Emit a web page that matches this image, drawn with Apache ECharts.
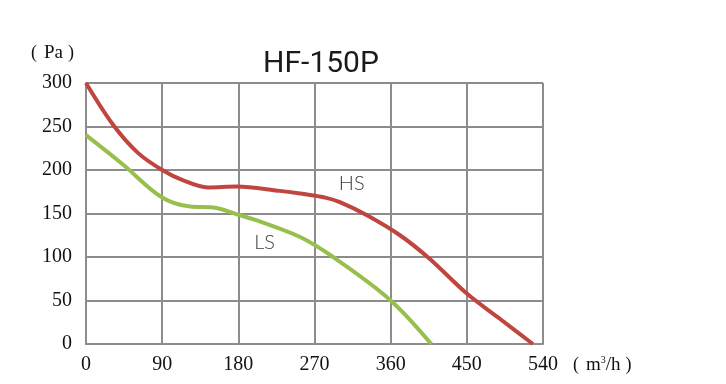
<!DOCTYPE html>
<html><head><meta charset="utf-8">
<script src="https://cdn.jsdelivr.net/npm/echarts@6/dist/echarts.min.js"></script>
<style>html,body{margin:0;padding:0;background:#fff}#c{width:726px;height:384px}</style>
</head><body><div id="c"></div>
<script>
const xTicks = [0, 90, 180, 270, 360, 450, 540];
const yTicks = [0, 50, 100, 150, 200, 250, 300];
const hsData = [[0,300],[32,252],[61,220],[90,200],[115,188],[144,180],[178,181],[229,176],[253,173],[284,168],[300,163],[332,148],[371,125],[406,98],[450,58],[489,29],[528,0]];
const lsData = [[0,240],[44,206],[89,169],[123,158],[150,157],[182,148],[202,142],[253,123],[292,100],[359,51],[408,0]];
const seriesNames = ['HS', 'LS'];
const labelPos = {HS: [314, 185], LS: [211, 117]};

const chart = echarts.init(document.getElementById('c'));
const gridColor = '#8c8c8c';
const serif = '"Liberation Serif","DejaVu Serif",serif';
const unitRich = {
  l: {fontFamily: serif, fontSize: 18, color: '#111', padding: [0, 7, 0, 0]},
  r: {fontFamily: serif, fontSize: 18, color: '#111', padding: [0, 0, 0, 5]},
  t: {fontFamily: serif, fontSize: 19, color: '#111'},
  s: {fontFamily: serif, fontSize: 10, color: '#111', verticalAlign: 'top', padding: [0, 0, 10, 0]}
};
function lineSeries(name, data, color) {
  return {
    name, type: 'line', data, smooth: 0.35, symbol: 'none',
    lineStyle: {color, width: 4}, z: 5,
    markPoint: {
      symbol: 'circle', symbolSize: 0,
      data: [{coord: labelPos[name], value: name}],
      label: {show: true, formatter: name, color: '#3a3a3a', fontSize: 20,
        fontFamily: 'Lato, "Open Sans", sans-serif', fontWeight: 300, position: 'inside'}
    }
  };
}
chart.setOption({
  animation: false,
  title: {text: 'HF-150P', left: 316, top: 44, textAlign: 'center',
    textStyle: {fontFamily: 'Roboto, sans-serif', fontSize: 30, fontWeight: 'normal', color: '#1a1a1a'}},
  grid: {left: 86, right: 183, top: 83, bottom: 40, containLabel: false},
  xAxis: {
    type: 'value', min: 0, max: 540, interval: 90,
    name: '{l|(}{t|m}{s|3}{t|/h}{r|)}', nameLocation: 'end', nameGap: 30,
    nameTextStyle: {align: 'left', verticalAlign: 'top', padding: [11, 0, 0, 0], rich: unitRich},
    axisLine: {show: true, lineStyle: {color: gridColor, width: 2}},
    axisTick: {show: false},
    splitLine: {show: true, lineStyle: {color: gridColor, width: 2}},
    axisLabel: {margin: 11, fontFamily: serif, fontSize: 20, color: '#111',
      formatter: v => xTicks.includes(v) ? String(v) : ''}
  },
  yAxis: {
    type: 'value', min: 0, max: 300, interval: 50,
    name: '{l|(}{t|Pa}{r|)}', nameLocation: 'end', nameGap: 20,
    nameTextStyle: {align: 'right', padding: [0, 12, 0, 0], rich: unitRich},
    axisLine: {show: true, lineStyle: {color: gridColor, width: 2}},
    axisTick: {show: false},
    splitLine: {show: true, lineStyle: {color: gridColor, width: 2}},
    axisLabel: {margin: 14, fontFamily: serif, fontSize: 20, color: '#111',
      formatter: v => yTicks.includes(v) ? String(v) : ''}
  },
  series: [
    lineSeries(seriesNames[0], hsData, '#c0453f'),
    lineSeries(seriesNames[1], lsData, '#97bf4e')
  ]
});
</script></body></html>
